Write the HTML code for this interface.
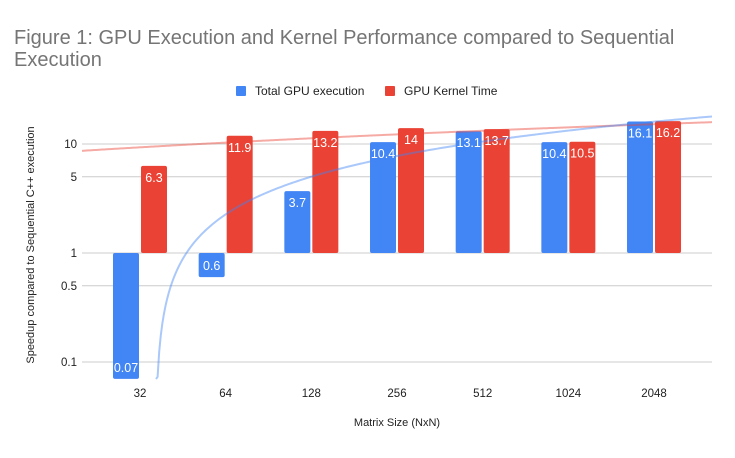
<!DOCTYPE html>
<html><head><meta charset="utf-8"><style>
body{margin:0;background:#fff;font-family:"Liberation Sans",Arial,sans-serif}
svg text{font-family:"Liberation Sans",Arial,sans-serif}
</style></head><body>
<svg id="c" width="735" height="453" viewBox="0 0 735 453">
<text x="14" y="44" font-size="20" fill="#757575">Figure 1: GPU Execution and Kernel Performance compared to Sequential</text>
<text x="14" y="66" font-size="20" fill="#757575">Execution</text>
<g>
<g><rect x="236" y="86" width="10" height="10" rx="1" fill="#4285f4"/><text x="255" y="95" font-size="12" fill="#222">Total GPU execution</text></g>
<g><rect x="385" y="86" width="10" height="10" rx="1" fill="#ea4335"/><text x="404" y="95" font-size="12" fill="#222">GPU Kernel Time</text></g>
</g>
<text transform="translate(34,245) rotate(-90)" text-anchor="middle" font-size="11" fill="#222">Speedup compared to Sequential C++ execution</text>
<text x="397" y="426" text-anchor="middle" font-size="11" fill="#222">Matrix Size (NxN)</text>
<g id="grid"></g><g id="bars"></g><g id="trend"></g><g id="labels"></g>
</svg>
<script>
const categories=["32","64","128","256","512","1024","2048"];
const totalGpu=[0.07,0.6,3.7,10.4,13.1,10.4,16.1];
const kernelTime=[6.3,11.9,13.2,14,13.7,10.5,16.2];
const yTicks=[0.1,0.5,1,5,10];
const NS="http://www.w3.org/2000/svg";
const x0=140,step=85.67,L=82,R=712,bot=379;
const xs=i=>x0+i*step;
const ys=v=>253-109*Math.log10(v);
function mk(t,a,p){const e=document.createElementNS(NS,t);for(const k in a)e.setAttribute(k,a[k]);p.appendChild(e);return e;}
const grid=document.getElementById('grid'),bars=document.getElementById('bars'),trend=document.getElementById('trend'),labels=document.getElementById('labels');
yTicks.forEach(t=>{const l=mk('line',{x1:L,x2:R,y1:ys(t),y2:ys(t),stroke:'#ccc','stroke-width':1},grid);


const tx=mk('text',{x:L-5,y:ys(t)+4,'text-anchor':'end','font-size':11.5,fill:'#222'},grid);tx.textContent=String(t);

});
categories.forEach((c,i)=>{const t=mk('text',{x:xs(i),y:397,'text-anchor':'middle','font-size':11.5,fill:'#222'},grid);t.textContent=c;

});
function bar(v,xl,color,name){const y1=ys(1),yv=Math.max(ys(v),0),top=Math.min(y1,yv),h=Math.abs(y1-yv);
const r=mk('rect',{x:xl,y:top,width:26,height:h,rx:2,fill:color},bars);


const ty=v>=1?yv+16:yv-7;
const t=mk('text',{x:xl+13,y:ty,'text-anchor':'middle','font-size':12.5,fill:'#fff'},labels);t.textContent=String(v);

}
categories.forEach((c,i)=>{bar(totalGpu[i],xs(i)-27,'#4285f4','bar-total-'+c);bar(kernelTime[i],xs(i)+1,'#ea4335','bar-kernel-'+c);});
function reg(a){const n=a.length,mi=(n-1)/2,mv=a.reduce((s,v)=>s+v,0)/n;let num=0,den=0;a.forEach((v,i)=>{num+=(i-mi)*(v-mv);den+=(i-mi)**2;});const m=num/den;return [m,mv-m*mi];}
function trendLine(a,color,name){const [m,b]=reg(a);let d='';const i0=(L-x0)/step,i1=(R-x0)/step;
for(let k=0;k<=400;k++){const i=i0+(i1-i0)*k/400,v=m*i+b;if(v<=0)continue;let y=ys(v);if(y>bot){y=bot;}
d+=(d?'L':'M')+xs(i).toFixed(2)+' '+y.toFixed(2);}
const p=mk('path',{d:d,fill:'none',stroke:color,'stroke-width':2,'stroke-opacity':0.45},trend);

}
trendLine(kernelTime,'#ea4335','trendline-kernel');
trendLine(totalGpu,'#4285f4','trendline-total');
</script>
</body></html>
